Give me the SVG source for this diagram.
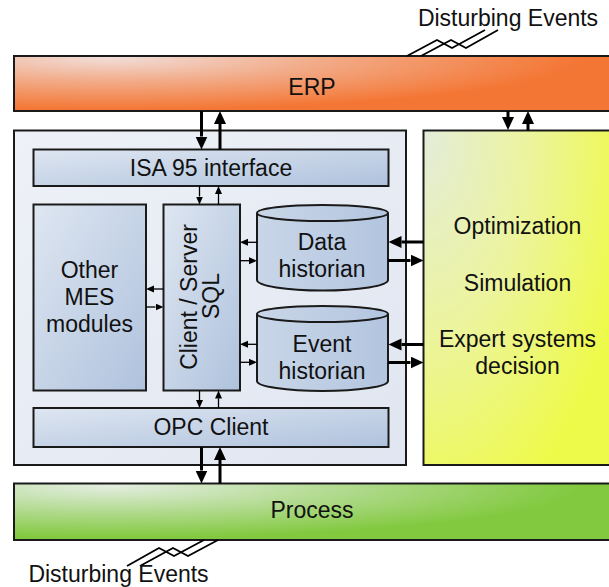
<svg xmlns="http://www.w3.org/2000/svg" width="609" height="587" viewBox="0 0 609 587">
  <style>
    .lbl { font-family: "Liberation Sans", Arial, sans-serif; font-size: 23px; fill: #111; text-anchor: middle; }
    .box { stroke: #1a1a1a; stroke-width: 2; }
    .thick { stroke: #000; stroke-width: 3; fill: none; }
    .thin { stroke: #000; stroke-width: 1.3; fill: none; }
    .bolt { stroke: #000; stroke-width: 1.8; fill: none; stroke-linejoin: miter; }
  </style>
  <defs>
    <radialGradient id="gErp" gradientUnits="userSpaceOnUse" cx="110" cy="58" r="1" gradientTransform="translate(110 58) scale(470 52) translate(-110 -58)">
      <stop offset="0" stop-color="#f1ddd8"/>
      <stop offset="0.45" stop-color="#f2ab88"/>
      <stop offset="1" stop-color="#f47634"/>
    </radialGradient>
    <radialGradient id="gProc" gradientUnits="userSpaceOnUse" cx="110" cy="486" r="1" gradientTransform="translate(110 486) scale(470 52) translate(-110 -486)">
      <stop offset="0" stop-color="#e3ede0"/>
      <stop offset="0.45" stop-color="#b6dc96"/>
      <stop offset="1" stop-color="#82c93f"/>
    </radialGradient>
    <radialGradient id="gOpt" gradientUnits="userSpaceOnUse" cx="424" cy="135" r="1" gradientTransform="translate(424 135) scale(210 400) translate(-424 -135)">
      <stop offset="0" stop-color="#e4ecda"/>
      <stop offset="0.5" stop-color="#ecf49e"/>
      <stop offset="1" stop-color="#eefa4a"/>
    </radialGradient>
    <linearGradient id="gMes" x1="0" y1="0" x2="1" y2="1">
      <stop offset="0" stop-color="#eef1f7"/>
      <stop offset="1" stop-color="#e0e6f1"/>
    </linearGradient>
    <linearGradient id="gMod" x1="0" y1="0" x2="1" y2="1">
      <stop offset="0" stop-color="#dee6f1"/>
      <stop offset="1" stop-color="#afc2dd"/>
    </linearGradient>
    <linearGradient id="gCyl" x1="0" y1="0" x2="1" y2="0">
      <stop offset="0" stop-color="#c9d6e8"/>
      <stop offset="1" stop-color="#b3c5df"/>
    </linearGradient>
    <marker id="hBig" markerUnits="userSpaceOnUse" markerWidth="14" markerHeight="13" refX="0" refY="6" orient="auto">
      <path d="M0,0 L13,6 L0,12 z" fill="#000"/>
    </marker>
    <marker id="hSmall" markerUnits="userSpaceOnUse" markerWidth="9" markerHeight="8" refX="0" refY="3.5" orient="auto">
      <path d="M0,0 L8,3.5 L0,7 z" fill="#000"/>
    </marker>
  </defs>

  <!-- enterprise layer -->
  <g id="erp">
    <rect class="box" x="14" y="56" width="610" height="55" fill="url(#gErp)"/>
    <text class="lbl" x="312" y="95">ERP</text>
  </g>

  <!-- MES container -->
  <g id="mes">
    <rect class="box" x="14" y="130.5" width="392" height="334.5" fill="url(#gMes)"/>
  </g>

  <g id="isa95">
    <rect class="box" x="33.5" y="149.5" width="355" height="36.5" fill="url(#gMod)"/>
    <text class="lbl" x="211" y="175.5">ISA 95 interface</text>
  </g>

  <g id="other-mes">
    <rect class="box" x="33.5" y="204.5" width="112.5" height="186" fill="url(#gMod)"/>
    <text class="lbl" x="89.5" y="277.5">Other</text>
    <text class="lbl" x="89.5" y="304.5">MES</text>
    <text class="lbl" x="89.5" y="331.5">modules</text>
  </g>

  <g id="client-server">
    <rect class="box" x="163.5" y="204.5" width="76.5" height="186" fill="url(#gMod)"/>
    <text class="lbl" transform="translate(197 297) rotate(-90)">Client / Server</text>
    <text class="lbl" transform="translate(218.5 296) rotate(-90)">SQL</text>
  </g>

  <g id="data-historian">
    <path class="box" fill="url(#gCyl)" d="M257,213 A65.5,8 0 0,1 388,213 L388,280 A65.5,10.5 0 0,1 257,280 Z"/>
    <path class="box" fill="none" d="M257,213 A65.5,8 0 0,0 388,213"/>
    <text class="lbl" x="322" y="249.5">Data</text>
    <text class="lbl" x="322" y="277">historian</text>
  </g>

  <g id="event-historian">
    <path class="box" fill="url(#gCyl)" d="M257,314 A65.5,8 0 0,1 388,314 L388,381 A65.5,10 0 0,1 257,381 Z"/>
    <path class="box" fill="none" d="M257,314 A65.5,8 0 0,0 388,314"/>
    <text class="lbl" x="322" y="352">Event</text>
    <text class="lbl" x="322" y="379">historian</text>
  </g>

  <g id="opc-client">
    <rect class="box" x="33.5" y="408" width="355" height="39" fill="url(#gMod)"/>
    <text class="lbl" x="211" y="435">OPC Client</text>
  </g>

  <!-- optimisation / decision support -->
  <g id="optimization">
    <rect class="box" x="423.5" y="130.5" width="200" height="334.5" fill="url(#gOpt)"/>
    <text class="lbl" x="517.5" y="234">Optimization</text>
    <text class="lbl" x="517.5" y="291">Simulation</text>
    <text class="lbl" x="517.5" y="347">Expert systems</text>
    <text class="lbl" x="517.5" y="374">decision</text>
  </g>

  <!-- plant layer -->
  <g id="process">
    <rect class="box" x="14" y="483.5" width="610" height="56.5" fill="url(#gProc)"/>
    <text class="lbl" x="312" y="518">Process</text>
  </g>

  <!-- disturbance symbols -->
  <g id="disturb-top">
    <path class="bolt" d="M407,56 L437,40 L452,48 L485,30"/>
    <path class="bolt" d="M421,56 L451,40 L466,48 L498,30"/>
    <text class="lbl" x="508" y="26">Disturbing Events</text>
  </g>
  <g id="disturb-bottom">
    <path class="bolt" d="M218,540 L188,556 L173,548 L140,566"/>
    <path class="bolt" d="M204,540 L174,556 L159,548 L127,566"/>
    <text class="lbl" x="118.5" y="581.5">Disturbing Events</text>
  </g>

  <!-- connectors -->
  <g id="connectors">
    <!-- ERP <-> MES -->
    <line class="thick" x1="201.5" y1="111" x2="201.5" y2="136.5" marker-end="url(#hBig)"/>
    <line class="thick" x1="220" y1="149.5" x2="220" y2="124" marker-end="url(#hBig)"/>
    <!-- ERP <-> optimisation -->
    <line class="thick" x1="508" y1="111" x2="508" y2="117" marker-end="url(#hBig)"/>
    <line class="thick" x1="528" y1="130.5" x2="528" y2="124" marker-end="url(#hBig)"/>
    <!-- historians <-> optimisation -->
    <line class="thick" x1="423.5" y1="242" x2="401.5" y2="242" marker-end="url(#hBig)"/>
    <line class="thick" x1="388" y1="260.5" x2="410.5" y2="260.5" marker-end="url(#hBig)"/>
    <line class="thick" x1="423.5" y1="344.5" x2="401.5" y2="344.5" marker-end="url(#hBig)"/>
    <line class="thick" x1="388" y1="362.5" x2="410.5" y2="362.5" marker-end="url(#hBig)"/>
    <!-- OPC <-> Process -->
    <line class="thick" x1="201.5" y1="447" x2="201.5" y2="470.5" marker-end="url(#hBig)"/>
    <line class="thick" x1="220" y1="483.5" x2="220" y2="460" marker-end="url(#hBig)"/>

    <!-- ISA 95 <-> Client/Server -->
    <line class="thin" x1="199.5" y1="186" x2="199.5" y2="196.5" marker-end="url(#hSmall)"/>
    <line class="thin" x1="218.5" y1="204.5" x2="218.5" y2="194" marker-end="url(#hSmall)"/>
    <!-- Other MES <-> Client/Server -->
    <line class="thin" x1="163.5" y1="289" x2="154" y2="289" marker-end="url(#hSmall)"/>
    <line class="thin" x1="146" y1="307" x2="155.5" y2="307" marker-end="url(#hSmall)"/>
    <!-- Client/Server <-> historians -->
    <line class="thin" x1="257" y1="242.3" x2="248" y2="242.3" marker-end="url(#hSmall)"/>
    <line class="thin" x1="240" y1="260.7" x2="249" y2="260.7" marker-end="url(#hSmall)"/>
    <line class="thin" x1="257" y1="344.3" x2="248" y2="344.3" marker-end="url(#hSmall)"/>
    <line class="thin" x1="240" y1="362.3" x2="249" y2="362.3" marker-end="url(#hSmall)"/>
    <!-- Client/Server <-> OPC -->
    <line class="thin" x1="199.5" y1="390.5" x2="199.5" y2="400" marker-end="url(#hSmall)"/>
    <line class="thin" x1="218.5" y1="408" x2="218.5" y2="398.5" marker-end="url(#hSmall)"/>
  </g>
</svg>
